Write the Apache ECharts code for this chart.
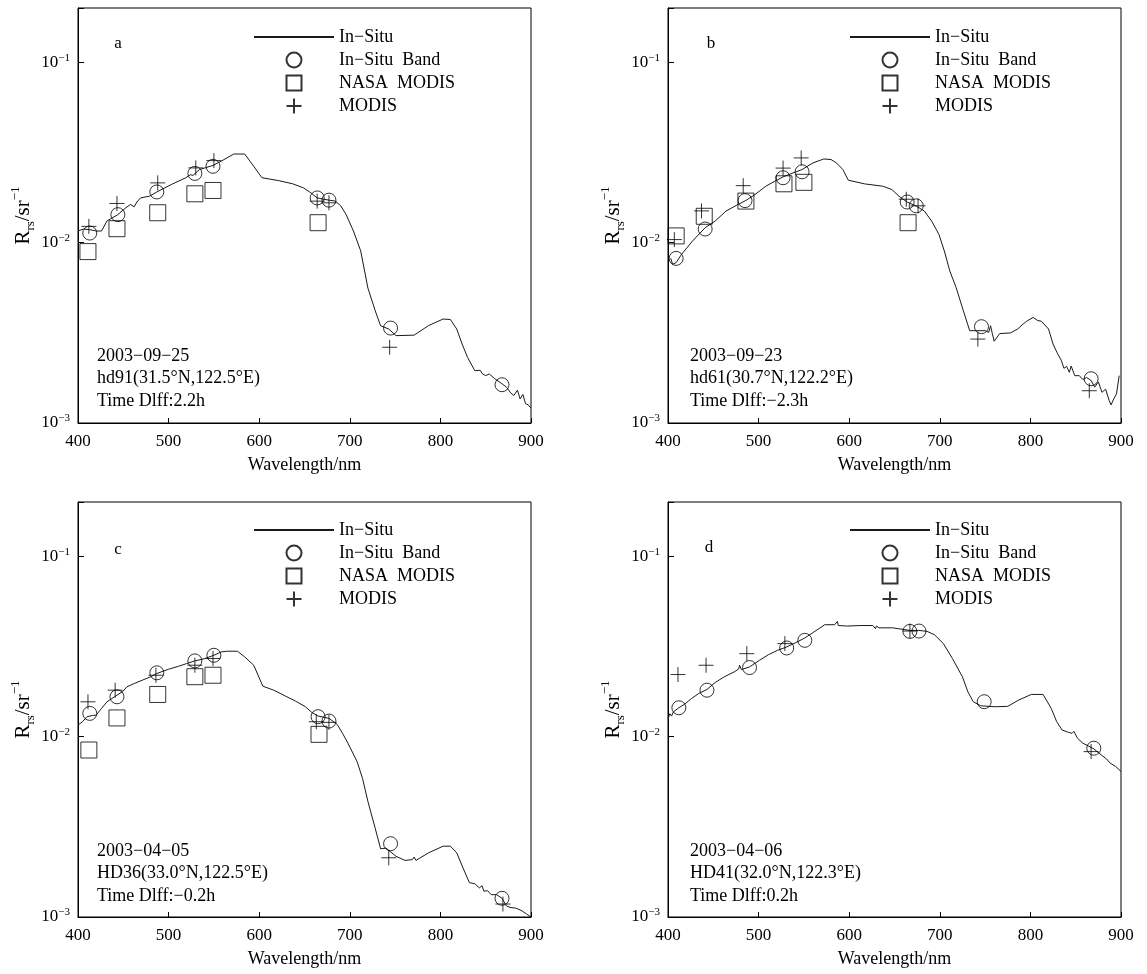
<!DOCTYPE html>
<html>
<head>
<meta charset="utf-8">
<script src="https://cdn.jsdelivr.net/npm/echarts@6/dist/echarts.min.js"></script>
<style>
  html, body { margin: 0; padding: 0; background: #fff; }
  #chart { width: 1147px; height: 974px; }
</style>
</head>
<body>
<div id="chart"></div>
<script>
// ---- Panel a: 2003-09-25, hd91 ----
const wlA = [400, 406, 413, 420, 426, 432, 444, 452, 458, 462, 465, 469, 479, 487, 503, 519, 524, 527, 534, 549, 558, 572, 584, 594, 603, 621, 637, 649, 657, 664, 677, 684, 690, 696, 704, 712, 720, 728, 734, 743, 751, 771, 787, 803, 811, 818, 824, 830, 838, 844, 846, 850, 854, 860, 868, 873, 877, 881, 885, 888, 891, 894, 897, 900];
const rsA = [0.0116, 0.0119, 0.0118, 0.0116, 0.0116, 0.0132, 0.0143, 0.0155, 0.0163, 0.0158, 0.0168, 0.0177, 0.0181, 0.0191, 0.0210, 0.0229, 0.0238, 0.0236, 0.0254, 0.0268, 0.0283, 0.0310, 0.0310, 0.0265, 0.0229, 0.0221, 0.0212, 0.0201, 0.0189, 0.0177, 0.0172, 0.0170, 0.0160, 0.0143, 0.0116, 0.0090, 0.0056, 0.0042, 0.00346, 0.00332, 0.00305, 0.00307, 0.00347, 0.00377, 0.00375, 0.00332, 0.00274, 0.00231, 0.00195, 0.00196, 0.00188, 0.00183, 0.00187, 0.00176, 0.00165, 0.00158, 0.00148, 0.00142, 0.00152, 0.00136, 0.00144, 0.00128, 0.00126, 0.00121];
const bandWlA = [413, 444, 487, 529, 549, 664, 677, 745, 868];
const bandA = [0.0113, 0.0143, 0.0191, 0.0242, 0.0265, 0.0177, 0.0172, 0.00336, 0.00163];
const nasaWlA = [411, 443, 488, 529, 549, 665];
const nasaA = [0.00892, 0.01195, 0.01465, 0.01866, 0.01947, 0.0129];
const modisWlA = [412, 443, 488, 530, 550, 664, 677, 744];
const modisA = [0.01231, 0.01649, 0.02145, 0.02597, 0.0285, 0.01699, 0.01663, 0.00263];

// ---- Panel b: 2003-09-23, hd61 ----
const wlB = [403, 405, 409, 415, 427, 441, 452, 464, 476, 486, 496, 508, 518, 527, 538, 548, 560, 572, 580, 586, 593, 599, 617, 637, 647, 655, 664, 674, 683, 691, 699, 705, 711, 718, 726, 733, 742, 750, 754, 756, 758, 760, 766, 778, 786, 792, 796, 803, 808, 812, 820, 825, 830, 834, 837, 840, 843, 845, 849, 854, 858, 862, 867, 871, 875, 879, 883, 887, 889, 892, 895, 898];
const rsB = [0.0082, 0.00759, 0.00775, 0.00862, 0.0102, 0.0121, 0.01317, 0.01496, 0.01615, 0.01714, 0.01849, 0.02056, 0.02192, 0.02315, 0.02436, 0.02543, 0.02767, 0.02911, 0.02888, 0.02767, 0.02543, 0.0222, 0.02118, 0.02056, 0.0197, 0.0181, 0.01678, 0.01595, 0.01496, 0.01317, 0.01112, 0.00899, 0.00697, 0.00564, 0.00419, 0.00325, 0.00325, 0.00325, 0.00318, 0.00346, 0.00313, 0.00284, 0.00313, 0.00316, 0.00332, 0.00354, 0.00367, 0.00385, 0.0037, 0.00367, 0.00332, 0.00274, 0.00242, 0.00223, 0.00201, 0.00206, 0.00191, 0.00207, 0.00183, 0.00183, 0.00174, 0.00179, 0.00172, 0.00158, 0.00169, 0.00148, 0.00154, 0.00133, 0.00126, 0.00136, 0.00145, 0.00183];
const bandWlB = [409, 441, 485, 527, 548, 664, 674, 746, 867];
const bandB = [0.00818, 0.0119, 0.0171, 0.0229, 0.0247, 0.0168, 0.016, 0.00342, 0.00176];
const nasaWlB = [409, 440, 486, 528, 550, 665];
const nasaB = [0.0109, 0.014, 0.017, 0.0212, 0.0216, 0.0129];
const modisWlB = [407, 437, 483, 527, 547, 663, 676, 742, 865];
const modisB = [0.0104, 0.015, 0.0207, 0.0259, 0.0295, 0.0174, 0.016, 0.00292, 0.00151];

// ---- Panel c: 2003-04-05, HD36 ----
const wlC = [400, 405, 410, 416, 420, 426, 432, 443, 449, 454, 462, 471, 480, 487, 500, 511, 520, 529, 540, 550, 558, 564, 576, 584, 594, 604, 616, 629, 640, 651, 658, 665, 677, 686, 692, 698, 708, 714, 720, 728, 734, 740, 751, 761, 769, 771, 773, 787, 803, 811, 818, 825, 832, 838, 843, 846, 848, 852, 856, 862, 868, 873, 877, 883, 889, 895, 900];
const rsC = [0.0116, 0.0121, 0.0129, 0.0131, 0.01317, 0.01434, 0.0156, 0.01699, 0.01772, 0.01889, 0.0197, 0.02056, 0.02145, 0.02239, 0.02365, 0.02456, 0.02543, 0.0263, 0.02709, 0.02826, 0.02948, 0.02976, 0.02976, 0.02767, 0.02488, 0.01905, 0.0181, 0.01678, 0.01575, 0.01465, 0.01363, 0.01301, 0.01263, 0.0117, 0.01043, 0.00919, 0.00728, 0.00588, 0.00437, 0.00311, 0.00239, 0.00241, 0.00217, 0.00206, 0.00208, 0.00215, 0.00206, 0.00227, 0.00247, 0.00247, 0.00227, 0.00187, 0.00155, 0.00153, 0.00145, 0.00149, 0.00139, 0.0014, 0.00133, 0.00133, 0.00127, 0.00115, 0.00113, 0.00112, 0.00109, 0.00104, 0.001];
const bandWlC = [413, 443, 487, 529, 550, 665, 677, 745, 868];
const bandC = [0.01346, 0.01663, 0.02259, 0.0263, 0.02826, 0.0129, 0.0122, 0.00255, 0.00127];
const nasaWlC = [412, 443, 488, 529, 549, 666];
const nasaC = [0.00843, 0.0127, 0.01714, 0.0215, 0.0219, 0.0103];
const modisWlC = [411, 441, 486, 529, 549, 663, 677, 743, 869];
const modisC = [0.0156, 0.0181, 0.0219, 0.0249, 0.0271, 0.0121, 0.012, 0.00213, 0.00118];

// ---- Panel d: 2003-04-06, HD41 ----
const wlD = [400, 402, 404, 406, 412, 418, 426, 434, 443, 452, 462, 473, 478, 479, 481, 490, 501, 511, 521, 531, 541, 551, 561, 573, 584, 587, 588, 598, 612, 626, 629, 630, 633, 648, 667, 677, 686, 694, 704, 714, 725, 731, 737, 745, 761, 775, 787, 801, 814, 823, 829, 835, 842, 846, 848, 852, 858, 864, 870, 878, 884, 888, 894, 900];
const rsD = [0.0125, 0.0134, 0.013, 0.01374, 0.01446, 0.01509, 0.01628, 0.01736, 0.01826, 0.01996, 0.02145, 0.02286, 0.0237, 0.02488, 0.02354, 0.02436, 0.02652, 0.0285, 0.03012, 0.03142, 0.0332, 0.03524, 0.03802, 0.04174, 0.04174, 0.04355, 0.04132, 0.04104, 0.04132, 0.04132, 0.03967, 0.04104, 0.04011, 0.04011, 0.03882, 0.03882, 0.03834, 0.03674, 0.03279, 0.02709, 0.02145, 0.01772, 0.01561, 0.01483, 0.01465, 0.01472, 0.01595, 0.01714, 0.01714, 0.01434, 0.0121, 0.01088, 0.01057, 0.01043, 0.0107, 0.0098, 0.00919, 0.00888, 0.00855, 0.00793, 0.00752, 0.00713, 0.00684, 0.00641];
const bandWlD = [412, 443, 490, 531, 551, 667, 677, 749, 870];
const bandD = [0.01446, 0.0181, 0.02416, 0.03102, 0.0342, 0.03834, 0.0385, 0.01562, 0.00863];
const nasaWlD = [];
const nasaD = [];
const modisWlD = [411, 442, 487, 529, 667, 867];
const modisD = [0.0221, 0.02488, 0.02885, 0.03279, 0.0385, 0.00826];

// Station notes and panel letters
const letters = ['a', 'b', 'c', 'd'];
const notes = [
  ['2003−09−25', 'hd91(31.5°N,122.5°E)', 'Time Dlff:2.2h'],
  ['2003−09−23', 'hd61(30.7°N,122.2°E)', 'Time Dlff:−2.3h'],
  ['2003−04−05', 'HD36(33.0°N,122.5°E)', 'Time Dlff:−0.2h'],
  ['2003−04−06', 'HD41(32.0°N,122.3°E)', 'Time Dlff:0.2h']
];
const legendNames = ['In−Situ', 'In−Situ  Band', 'NASA  MODIS', 'MODIS'];

const panelData = [
  { wl: wlA, rs: rsA, bw: bandWlA, b: bandA, nw: nasaWlA, n: nasaA, mw: modisWlA, m: modisA },
  { wl: wlB, rs: rsB, bw: bandWlB, b: bandB, nw: nasaWlB, n: nasaB, mw: modisWlB, m: modisB },
  { wl: wlC, rs: rsC, bw: bandWlC, b: bandC, nw: nasaWlC, n: nasaC, mw: modisWlC, m: modisC },
  { wl: wlD, rs: rsD, bw: bandWlD, b: bandD, nw: nasaWlD, n: nasaD, mw: modisWlD, m: modisD }
];

// Layout of the four plot boxes
const FONT = '"Liberation Serif", "Times New Roman", serif';
const boxes = [
  { left: 78, top: 8, letter: [118, 44], note: [97, 356], legend: [253, 28] },
  { left: 668, top: 8, letter: [711, 44], note: [690, 356], legend: [849, 28] },
  { left: 78, top: 502, letter: [118, 550], note: [97, 851], legend: [253, 521] },
  { left: 668, top: 502, letter: [709, 548], note: [690, 851], legend: [849, 521] }
];
const BOX_W = 453, BOX_H = 415;

const SQUARE = 'path://M0,0L10,0L10,10L0,10Z';
const PLUS = 'path://M0,6L12,6M6,0L6,12';

function pairs(xs, ys) { return xs.map((x, i) => [x, ys[i]]); }

function decadeLabel(v) {
  const e = Math.log10(v);
  const r = Math.round(e);
  if (Math.abs(e - r) > 1e-6) return '';
  return '10{sup|' + (r < 0 ? '−' + (-r) : String(r)) + '}';
}

const grids = [], xAxes = [], yAxes = [], series = [], legends = [], graphics = [];

boxes.forEach((bx, i) => {
  grids.push({
    left: bx.left, top: bx.top, width: BOX_W, height: BOX_H,
    show: true, borderColor: '#000', borderWidth: 1, backgroundColor: 'transparent'
  });
  xAxes.push({
    gridIndex: i, type: 'value', min: 400, max: 900, interval: 100,
    name: 'Wavelength/nm', nameLocation: 'middle', nameGap: 33,
    nameTextStyle: { fontFamily: FONT, fontSize: 18, color: '#000' },
    axisLine: { show: true, lineStyle: { color: '#000', width: 1 } },
    axisTick: { show: true, inside: true, length: 5, lineStyle: { color: '#000' } },
    axisLabel: { fontFamily: FONT, fontSize: 17, color: '#000', margin: 10 },
    splitLine: { show: false }
  });
  yAxes.push({
    gridIndex: i, type: 'log', logBase: 10, min: 0.001, max: 0.2,
    name: 'R{sub|rs}/sr{sup|−1}', nameLocation: 'middle', nameGap: 40, nameRotate: 90,
    nameTextStyle: {
      fontFamily: FONT, fontSize: 21, color: '#000', lineHeight: 28,
      rich: {
        sub: { fontFamily: FONT, fontSize: 13, color: '#000', verticalAlign: 'bottom' },
        sup: { fontFamily: FONT, fontSize: 13, color: '#000', verticalAlign: 'top' }
      }
    },
    axisLine: { show: true, lineStyle: { color: '#000', width: 1 } },
    axisTick: { show: true, inside: true, length: 6, lineStyle: { color: '#000' } },
    minorTick: { show: false },
    axisLabel: {
      fontFamily: FONT, fontSize: 17, color: '#000', margin: 8, lineHeight: 20,
      formatter: decadeLabel,
      rich: { sup: { fontFamily: FONT, fontSize: 11, color: '#000', verticalAlign: 'top' } }
    },
    splitLine: { show: false }
  });

  const d = panelData[i];
  series.push({
    name: legendNames[0], type: 'line', xAxisIndex: i, yAxisIndex: i,
    data: pairs(d.wl, d.rs), showSymbol: false, symbol: 'none',
    lineStyle: { color: '#1a1a1a', width: 1 },
    itemStyle: { color: 'rgba(0,0,0,0)', borderWidth: 0 },
    animation: false, z: 2
  });
  series.push({
    name: legendNames[1], type: 'scatter', xAxisIndex: i, yAxisIndex: i,
    data: pairs(d.bw, d.b), symbol: 'circle', symbolSize: 14,
    itemStyle: { color: 'rgba(0,0,0,0)', borderColor: '#000', borderWidth: 1 },
    animation: false, z: 3
  });
  series.push({
    name: legendNames[2], type: 'scatter', xAxisIndex: i, yAxisIndex: i,
    data: pairs(d.nw, d.n), symbol: SQUARE, symbolSize: 16,
    itemStyle: { color: 'rgba(0,0,0,0)', borderColor: '#000', borderWidth: 1 },
    animation: false, z: 3
  });
  series.push({
    name: legendNames[3], type: 'scatter', xAxisIndex: i, yAxisIndex: i,
    data: pairs(d.mw, d.m), symbol: PLUS, symbolSize: 15,
    itemStyle: { color: 'rgba(0,0,0,0)', borderColor: '#000', borderWidth: 1 },
    animation: false, z: 4
  });

  legends.push({
    data: legendNames, orient: 'vertical', left: bx.legend[0], top: bx.legend[1],
    padding: 0, itemWidth: 80, itemHeight: 15, itemGap: 5, selectedMode: false,
    textStyle: { fontFamily: FONT, fontSize: 18, color: '#000', lineHeight: 18 }
  });

  graphics.push({
    type: 'text', x: bx.letter[0], y: bx.letter[1],
    style: { text: letters[i], font: '17px ' + FONT, fill: '#000', textAlign: 'center', textVerticalAlign: 'middle' }
  });
  notes[i].forEach((line, k) => {
    graphics.push({
      type: 'text', x: bx.note[0], y: bx.note[1] + k * 22.5,
      style: { text: line, font: '18px ' + FONT, fill: '#000', textAlign: 'left', textVerticalAlign: 'middle' }
    });
  });
});

const chart = echarts.init(document.getElementById('chart'), null, { renderer: 'canvas' });
chart.setOption({
  backgroundColor: '#fff',
  animation: false,
  grid: grids,
  xAxis: xAxes,
  yAxis: yAxes,
  legend: legends,
  series: series,
  graphic: graphics
});
</script>
</body>
</html>
